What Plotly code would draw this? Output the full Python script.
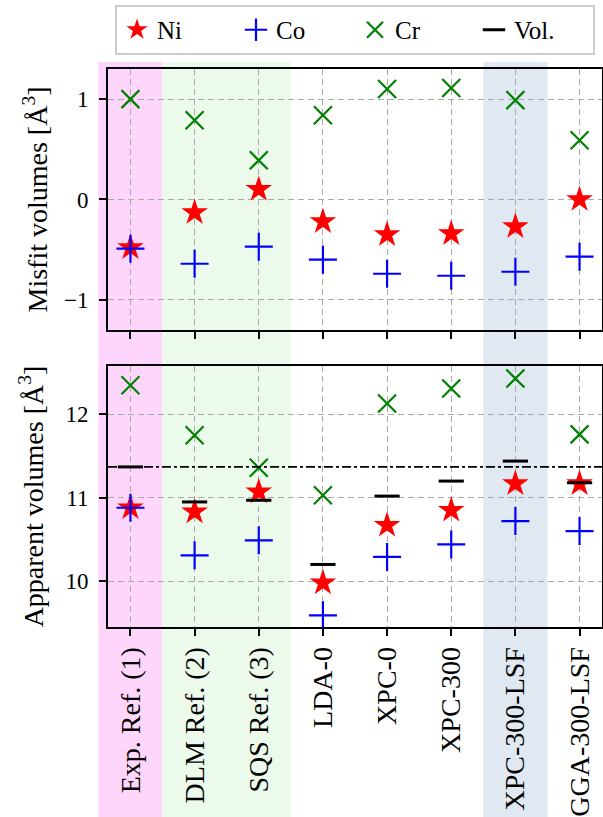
import plotly.graph_objects as go
from plotly.subplots import make_subplots

categories = ["Exp. Ref. (1)", "DLM Ref. (2)", "SQS Ref. (3)", "LDA-0", "XPC-0",
              "XPC-300", "XPC-300-LSF", "GGA-300-LSF"]

# Misfit volumes (top panel)
misfit_ni = [-0.48, -0.13, 0.10, -0.22, -0.35, -0.34, -0.27, 0.00]
misfit_co = [-0.49, -0.64, -0.47, -0.60, -0.74, -0.76, -0.72, -0.57]
misfit_cr = [1.00, 0.79, 0.39, 0.84, 1.10, 1.11, 0.99, 0.59]

# Apparent volumes (bottom panel)
app_ni = [10.88, 10.83, 11.07, 9.98, 10.67, 10.85, 11.17, 11.17]
app_co = [10.88, 10.31, 10.49, 9.59, 10.29, 10.44, 10.72, 10.60]
app_cr = [12.35, 11.75, 11.36, 11.03, 12.13, 12.31, 12.43, 11.76]
app_vol = [11.37, 10.95, 10.97, 10.20, 11.02, 11.20, 11.44, 11.18]
exp_vol = app_vol[0]

# shaded category groups (first index, last index, colour)
spans = [(0, 0, "#ffd6fb"), (1, 2, "#ecfaeb"), (6, 6, "#e0e8f1")]

x_range = [-0.35, len(categories) - 1 + 0.35]

FONT = "Liberation Serif"
ROT_FS = 28   # rotated texts (axis titles, category labels)
TICK_FS = 23
LEG_FS = 25

fig = make_subplots(rows=2, cols=1, shared_xaxes=False, vertical_spacing=0.0646)

def add_series(row, ni, co, cr, vol=None, show=False):
    fig.add_trace(go.Scatter(x=categories, y=ni, mode="markers", name="Ni",
                             marker=dict(symbol="star", size=20, color="red"),
                             showlegend=show), row=row, col=1)
    fig.add_trace(go.Scatter(x=categories, y=co, mode="markers", name="Co",
                             marker=dict(symbol="cross-thin", size=20,
                                         line=dict(color="blue", width=2.2)),
                             showlegend=show), row=row, col=1)
    fig.add_trace(go.Scatter(x=categories, y=cr, mode="markers", name="Cr",
                             marker=dict(symbol="x-thin", size=18,
                                         line=dict(color="green", width=2.2)),
                             showlegend=show), row=row, col=1)
    if vol is not None:
        fig.add_trace(go.Scatter(x=categories, y=vol, mode="markers", name="Vol.",
                                 marker=dict(symbol="line-ew", size=18,
                                             line=dict(color="black", width=3)),
                                 showlegend=show), row=row, col=1)

add_series(1, misfit_ni, misfit_co, misfit_cr, show=False)
add_series(2, app_ni, app_co, app_cr, app_vol, show=True)

# shaded backgrounds spanning the full figure height
width = x_range[1] - x_range[0]
for a, b, col in spans:
    fig.add_shape(type="rect", xref="x domain", yref="paper",
                  x0=(a - 0.5 - x_range[0]) / width, x1=(b + 0.5 - x_range[0]) / width,
                  y0=-0.3405, y1=1.0125, fillcolor=col, line_width=0, layer="below")

# reference (experimental) volume line
fig.add_shape(type="line", xref="x2 domain", yref="y2", x0=0, x1=1,
              y0=exp_vol, y1=exp_vol, line=dict(color="black", width=1.6, dash="dashdot"))

axis_common = dict(showline=True, linecolor="black", linewidth=1.8, mirror=True,
                   showgrid=True, gridcolor="#aaaaaa", gridwidth=1.3, griddash="6px,4px",
                   ticks="outside", ticklen=7, tickwidth=1.8, tickcolor="black",
                   zeroline=False, automargin=False)

fig.update_xaxes(**axis_common, range=x_range,
                 tickfont=dict(family=FONT, size=ROT_FS, color="black"))
fig.update_xaxes(showticklabels=False, row=1, col=1)
fig.update_xaxes(tickangle=-90, row=2, col=1)
fig.update_yaxes(**axis_common, ticklabelstandoff=6,
                 tickfont=dict(family=FONT, size=TICK_FS, color="black"))
fig.update_yaxes(range=[-1.3, 1.3], tickvals=[-1, 0, 1], row=1, col=1,
                 title=dict(text="Misfit volumes [Å<sup>3</sup>]",
                            font=dict(family=FONT, size=ROT_FS, color="black"), standoff=8))
fig.update_yaxes(range=[9.45, 12.58], tickvals=[10, 11, 12], row=2, col=1,
                 title=dict(text="Apparent volumes [Å<sup>3</sup>]",
                            font=dict(family=FONT, size=ROT_FS, color="black"), standoff=14))

fig.update_layout(
    width=603, height=817,
    margin=dict(l=108, r=1, t=69, b=190),
    paper_bgcolor="white", plot_bgcolor="rgba(0,0,0,0)",
    font=dict(family=FONT, size=LEG_FS, color="black"),
    legend=dict(orientation="h", x=0.5, xanchor="center", y=1.1147, yanchor="top",
                bgcolor="white", bordercolor="#cccccc", borderwidth=2,
                entrywidth=74, font=dict(family=FONT, size=LEG_FS, color="black"),
                itemsizing="trace"),
)

fig.write_html("out.html", config={"displayModeBar": False},
               post_script="document.body.style.margin='0';document.body.style.overflow='hidden';")
